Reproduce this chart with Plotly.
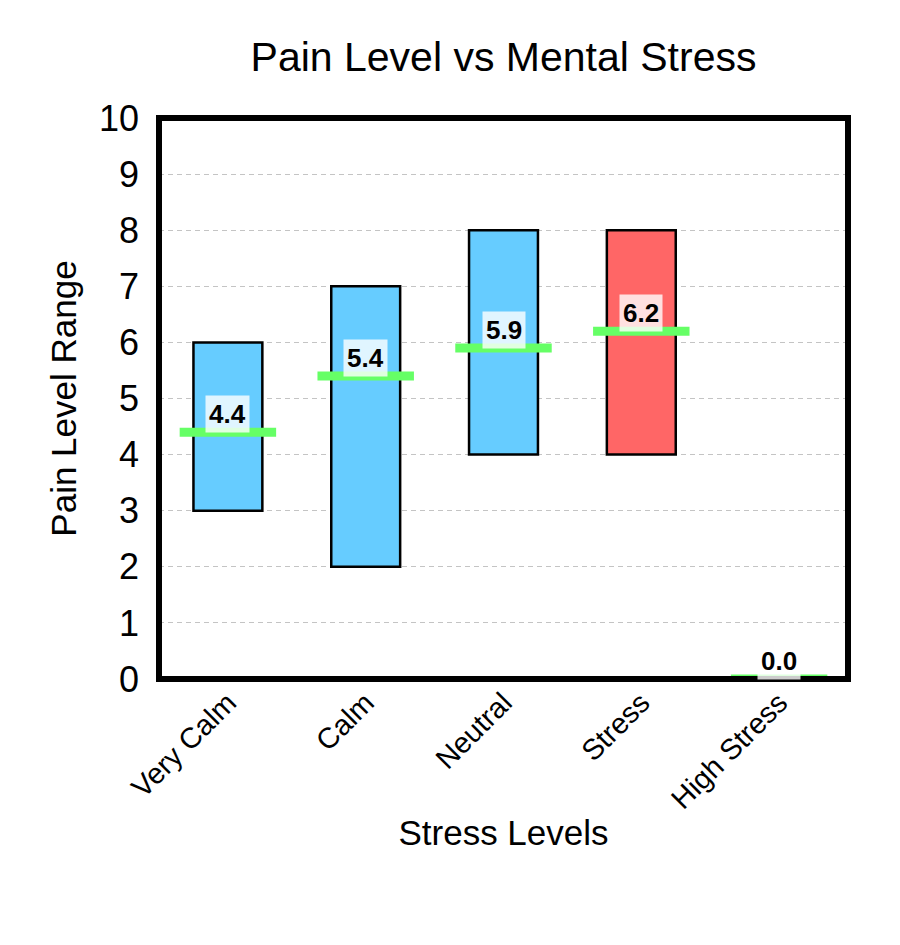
import plotly.graph_objects as go

# данные
categories = ["Very Calm", "Calm", "Neutral", "Stress", "High Stress"]
range_low = [3, 2, 4, 4, None]
range_high = [6, 7, 8, 8, None]
mean_pain = [4.4, 5.4, 5.9, 6.2, 0.0]
bar_colors = ["#66ccff", "#66ccff", "#66ccff", "#ff6666", "#66ccff"]

x_pos = list(range(len(categories)))
heights = [None if lo is None else hi - lo for lo, hi in zip(range_low, range_high)]

# страница имеет отступ 8px у body, поэтому фигура чуть меньше окна
W, H = 884, 929

fig = go.Figure()

fig.add_trace(go.Bar(
    x=x_pos,
    y=heights,
    base=range_low,
    width=0.5,
    marker=dict(color=bar_colors, line=dict(color="black", width=2.5)),
    showlegend=False,
    hoverinfo="skip",
))

# зелёные линии среднего + подписи
for xi, m in zip(x_pos, mean_pain):
    fig.add_shape(type="line", xref="x", yref="y",
                  x0=xi - 0.35, x1=xi + 0.35, y0=m, y1=m,
                  line=dict(color="#66ff66", width=9))
    fig.add_annotation(x=xi, y=m, xref="x", yref="y",
                       text=f"<b>{m:.1f}</b>", showarrow=False,
                       yanchor="bottom", yshift=-1,
                       font=dict(size=26, color="black", family="Liberation Sans, Arial, sans-serif"),
                       bgcolor="rgba(255,255,255,0.8)", borderpad=3)

# рамка
fig.add_shape(type="rect", xref="paper", yref="paper", x0=0, x1=1, y0=0, y1=1,
              line=dict(color="black", width=6), layer="above")

fig.update_layout(
    width=W, height=H,
    margin=dict(l=151, r=44, t=110, b=258, autoexpand=False),
    paper_bgcolor="white",
    plot_bgcolor="white",
    font=dict(family="Liberation Sans, Arial, sans-serif", color="black", size=34),
    title=dict(text="Pain Level vs Mental Stress", font=dict(size=41),
               x=0.5, xref="paper", xanchor="center",
               y=1 - 49 / H, yanchor="middle", automargin=False),
)

fig.update_xaxes(
    range=[-0.5, 4.5],
    tickvals=x_pos, ticktext=categories,
    tickangle=-45, tickfont=dict(size=29),
    showgrid=False, zeroline=False, showline=False,
    automargin=False,
    title=dict(text="Stress Levels", font=dict(size=35), standoff=6),
)

fig.update_yaxes(
    range=[0, 10], dtick=1,
    tickfont=dict(size=36),
    showgrid=True, gridcolor="#c4c4c4", gridwidth=1, griddash="5px,4px",
    zeroline=False, showline=False,
    ticklabelstandoff=19,
    automargin=False,
    title=dict(text="Pain Level Range", font=dict(size=35), standoff=11),
)

fig.write_html("out.html")
